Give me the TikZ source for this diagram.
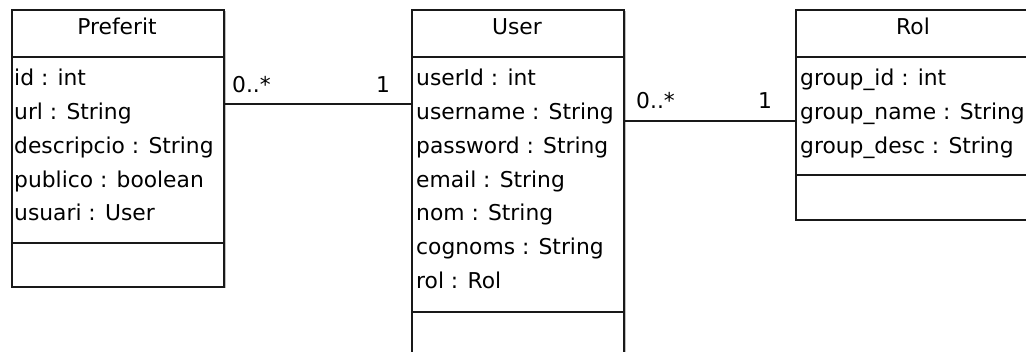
\documentclass[tikz,border=0pt]{standalone}
\usepackage{fontspec}
\setmainfont{DejaVu Sans}
\begin{document}
\begin{tikzpicture}[x=1pt,y=-1pt,
  every node/.style={font=\fontsize{21.8}{24}\selectfont, text=black},
  classbox/.style={draw=black!90, line width=1.7pt, fill=white, anchor=north west, inner sep=0pt},
  sep/.style={draw=black!90, line width=1.7pt},
  shadow/.style={fill=black!25},
  attr/.style={anchor=base west, inner sep=0pt},
  ttl/.style={anchor=base, inner sep=0pt},
  assoc/.style={draw=black!90, line width=1.7pt},
  mult/.style={anchor=base west, inner sep=0pt}]
\useasboundingbox (0,0) rectangle (1026,352);
\clip (0,0) rectangle (1026,352);
\fill[white] (0,0) rectangle (1026,352);
% shadows
\fill[shadow] (13.5,11.5) rectangle (225.5,288.5);
\fill[shadow] (413.5,11.5) rectangle (625.5,370);
\fill[shadow] (797.5,11.5) rectangle (1040,221.5);
% boxes
\node[classbox, minimum width=212pt, minimum height=277pt] (preferit) at (11,9) {};
\node[classbox, minimum width=212pt, minimum height=350pt] (user) at (411,9) {};
\node[classbox, minimum width=236pt, minimum height=210pt] (rol) at (795,9) {};
% compartments
\draw[sep] (preferit.west |- 0,57) -- (preferit.east |- 0,57);
\draw[sep] (preferit.west |- 0,243) -- (preferit.east |- 0,243);
\draw[sep] (user.west |- 0,57) -- (user.east |- 0,57);
\draw[sep] (user.west |- 0,312) -- (user.east |- 0,312);
\draw[sep] (rol.west |- 0,57) -- (rol.east |- 0,57);
\draw[sep] (rol.west |- 0,175) -- (rol.east |- 0,175);
% titles
\node[ttl] (tpref) at (117,35) {Preferit};
\node[ttl] (tuser) at (517,35) {User};
\node[ttl] (trol) at (913,35) {Rol};
% Preferit attributes
\node[attr] (p1) at (14,86) {id : int};
\node[attr] (p2) at (14,120) {url : String};
\node[attr] (p3) at (14,154) {descripcio : String};
\node[attr] (p4) at (14,188) {publico : boolean};
\node[attr] (p5) at (14,221) {usuari : User};
% User attributes
\node[attr] (u1) at (416,86) {userId : int};
\node[attr] (u2) at (416,120) {username : String};
\node[attr] (u3) at (416,154) {password : String};
\node[attr] (u4) at (416,188) {email : String};
\node[attr] (u5) at (416,221) {nom : String};
\node[attr] (u6) at (416,255) {cognoms : String};
\node[attr] (u7) at (416,289) {rol : Rol};
% Rol attributes
\node[attr] (r1) at (800,86) {group\_id : int};
\node[attr] (r2) at (800,120) {group\_name : String};
\node[attr] (r3) at (800,154) {group\_desc : String};
% associations
\draw[assoc] (preferit.east |- 0,104) -- (user.west |- 0,104);
\draw[assoc] (user.east |- 0,121) -- (rol.west |- 0,121);
\node[mult] (m1) at (232,93) {0..*};
\node[mult] (m2) at (376,93) {1};
\node[mult] (m3) at (636,109) {0..*};
\node[mult] (m4) at (758,109) {1};
\end{tikzpicture}
\end{document}
